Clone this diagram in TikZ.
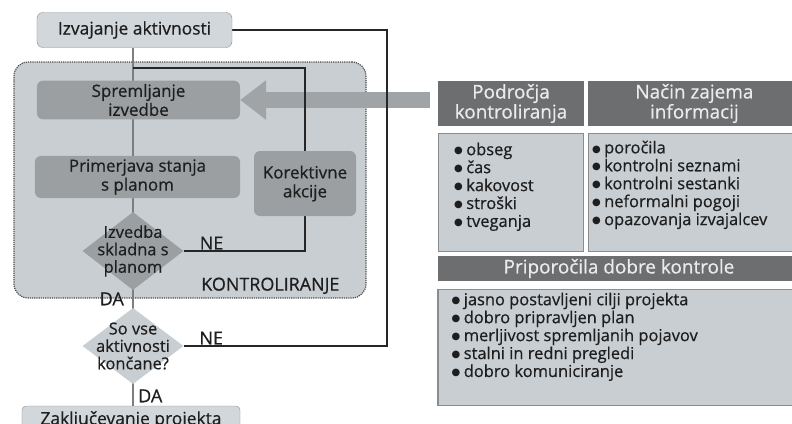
\documentclass[tikz,border=0pt]{standalone}
\usepackage{fontspec}
\setmainfont{Open Sans}[FakeBold=0.6]
\newfontfamily\symbolfont{DejaVu Sans}
\usetikzlibrary{positioning, arrows.meta, shapes.geometric, calc, backgrounds}
\definecolor{boxlight}{HTML}{C9CED2}
\definecolor{boxtop}{HTML}{D2D7DB}
\definecolor{boxdark}{HTML}{9C9FA2}
\definecolor{headgray}{HTML}{6D6E70}
\definecolor{edgegray}{HTML}{8A8D90}
\definecolor{flowgray}{HTML}{7C7E80}
\definecolor{textdark}{HTML}{1E1E1E}
\tikzset{
  plain/.style={font=\fontsize{18}{19}\selectfont, text=textdark, inner sep=1bp},
  lightbox/.style={
    draw=edgegray, fill=boxtop, rounded corners=6bp,
    align=center, font=\fontsize{17.5}{19}\selectfont, text=textdark
  },
  darkbox/.style={
    fill=boxdark, rounded corners=6bp,
    align=center, font=\fontsize{17}{19}\selectfont, text=textdark
  },
  % decision diamonds, text put in as a centred label
  decision/.style={
    diamond, inner sep=0pt,
    minimum width=101bp, minimum height=78bp
  },
  decisiontext/.style={align=center, font=\fontsize{16.5}{17.5}\selectfont, text=textdark},
  % control area
  container/.style={
    draw=black!70, densely dotted, line width=1.2bp,
    fill=boxlight, rounded corners=14bp
  },
  % tables on the right
  tablehead/.style={
    fill=headgray, align=center, text=white!92!black,
    font=\fontsize{19}{16.5}\selectfont
  },
  tablebody/.style={
    draw=edgegray, line width=1.2bp, fill=boxlight
  },
  listtext/.style={
    align=left, inner sep=0pt, text=textdark,
    font=\fontsize{16.5}{18}\selectfont
  },
  % connectors
  flow/.style={draw=flowgray, line width=2.6bp},
  loopline/.style={draw=black!85, line width=1.1bp},
  bigarrow/.style={
    draw=boxdark!95!white, line width=16bp,
    -{Triangle[length=26bp, width=38bp]}
  },
}
\newcommand{\itm}{\raisebox{0.15ex}{\symbolfont\fontsize{10}{10}\selectfont ●}\hspace{3.5bp}}
\pgfdeclarelayer{back}
\pgfsetlayers{back,background,main}

\begin{document}
\begin{tikzpicture}[x=1bp, y=-1bp, node distance=6bp and 4bp]
  \useasboundingbox (0,0) rectangle (792,423);
  \clip (0,0) rectangle (792,423);

  %% -- flow --
  \node[lightbox, minimum width=195bp, minimum height=35bp] (izvajanje) at (134.5,30) {Izvajanje aktivnosti};
  \node[darkbox, minimum width=203bp, minimum height=36bp] (spremljanje) at (138.5,100) {Spremljanje\\izvedbe};
  \node[darkbox, minimum width=205bp, minimum height=38bp] (primerjava) at (137.5,177) {Primerjava stanja\\s planom};
  \node[darkbox, minimum width=102bp, minimum height=65bp] (korektivne) at (305,183.5) {Korektivne\\akcije};
  \node[decision, fill=boxdark,
        label={[decisiontext]center:Izvedba\\skladna s\\planom}] (skladna) at (133,251) {};
  \node[decision, fill=boxlight, minimum height=76bp,
        label={[decisiontext]center:So vse\\aktivnosti\\končane?}] (koncane) at (133,346) {};
  \node[lightbox, rounded corners=4bp, minimum width=218bp, minimum height=28bp] (zakljucevanje) at (131,420) {Zaključevanje projekta};

  \coordinate (merge) at (133,68);
  \coordinate (turn) at (387,30);

  %% -- control area --
  \begin{pgfonlayer}{back}
    \node[container, minimum width=352bp, minimum height=236bp] (kontroliranje) at (190,180) {};
  \end{pgfonlayer}
  \node[plain, anchor=base east] at ([shift={(-26,-8)}]kontroliranje.south east) {KONTROLIRANJE};

  %% -- tables --
  \node[tablehead, minimum width=146bp, minimum height=35bp] (podrocja) at (511,103.5) {Področja\\kontroliranja};
  \node[tablehead, minimum width=212bp, minimum height=35bp, right=of podrocja] (nacin) {Način zajema\\informacij};
  \node[tablebody, minimum width=145bp, minimum height=118bp, below=of podrocja] (podrocjaBody) {};
  \node[tablebody, minimum width=212bp, minimum height=118bp, below=of nacin] (nacinBody) {};
  \node[tablehead, minimum width=362bp, minimum height=25bp] (priporocila) at (619,268.5) {Priporočila dobre kontrole};
  \node[tablebody, minimum width=362bp, minimum height=116bp, below=7bp of priporocila] (priporocilaBody) {};

  \node[listtext, anchor=north west] (podrocjaList) at ([shift={(16,10)}]podrocjaBody.north west)
    {\itm obseg\\ \itm čas\\ \itm kakovost\\ \itm stroški\\ \itm tveganja};
  \node[listtext, anchor=north west] (nacinList) at ([shift={(4,8)}]nacinBody.north west)
    {\itm poročila\\ \itm kontrolni seznami\\ \itm kontrolni sestanki\\ \itm neformalni pogoji\\ \itm opazovanja izvajalcev};
  \node[listtext, anchor=north west] (priporocilaList) at ([shift={(14,4)}]priporocilaBody.north west)
    {\itm jasno postavljeni cilji projekta\\ \itm dobro pripravljen plan\\ \itm merljivost spremljanih pojavov\\ \itm stalni in redni pregledi\\ \itm dobro komuniciranje};

  %% -- connectors --
  \begin{scope}[on background layer]
    \draw[bigarrow] ([xshift=-8bp]podrocja.west |- spremljanje.east) -- (spremljanje.east);
    \draw[flow] (izvajanje.south -| skladna) -- (zakljucevanje.north -| skladna);
    \draw[loopline] (merge) -| (korektivne.north);
    \draw[loopline] (skladna.east) -| node[plain, pos=0.06, anchor=south west] {NE} (korektivne.south);
    \draw[loopline] (koncane.east) -| node[plain, pos=0.035, anchor=south west] {NE} (turn) -- (izvajanje.east);
  \end{scope}
  \node[plain, anchor=north east] at ([shift={(-8,1)}]skladna.south) {DA};
  \node[plain, anchor=north west] at ([shift={(4,4)}]koncane.south) {DA};

\end{tikzpicture}
\end{document}
